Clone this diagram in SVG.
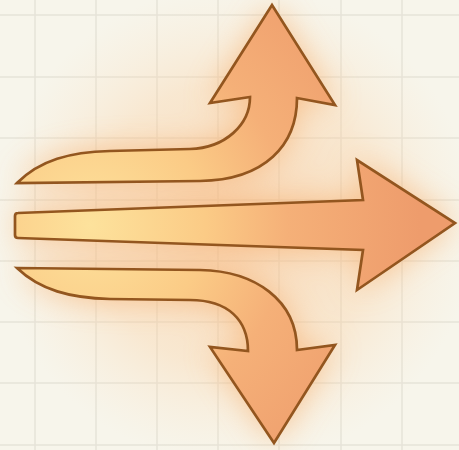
<svg xmlns="http://www.w3.org/2000/svg" width="459" height="450" viewBox="0 0 459 450">
  <defs>
    <radialGradient id="fillGrad" gradientUnits="userSpaceOnUse" cx="90" cy="225" r="330">
      <stop offset="0" stop-color="#fde29c"/>
      <stop offset="0.35" stop-color="#fbcb86"/>
      <stop offset="0.6" stop-color="#f5b078"/>
      <stop offset="1" stop-color="#ee9c6c"/>
    </radialGradient>
    <radialGradient id="wash" gradientUnits="userSpaceOnUse" cx="235" cy="225" r="240">
      <stop offset="0" stop-color="#f9b980" stop-opacity="0.55"/>
      <stop offset="0.6" stop-color="#fbcfa0" stop-opacity="0.35"/>
      <stop offset="1" stop-color="#fbe0c0" stop-opacity="0"/>
    </radialGradient>
    <filter id="glow" x="-30%" y="-30%" width="160%" height="160%">
      <feGaussianBlur stdDeviation="16"/>
    </filter>
    <style>
      .grid line { stroke: #e6e3d8; stroke-width: 1.5; }
      .arrow { fill: url(#fillGrad); stroke: #93561f; stroke-width: 2.7; stroke-linejoin: miter; }
      .glow { fill: #f7a45c; opacity: 0.6; filter: url(#glow); }
    </style>
  </defs>
  <rect width="459" height="450" fill="#f7f5eb"/>
  <g class="grid">
    <line x1="35" y1="0" x2="35" y2="450"/>
    <line x1="96" y1="0" x2="96" y2="450"/>
    <line x1="157" y1="0" x2="157" y2="450"/>
    <line x1="218" y1="0" x2="218" y2="450"/>
    <line x1="279" y1="0" x2="279" y2="450"/>
    <line x1="341" y1="0" x2="341" y2="450"/>
    <line x1="402" y1="0" x2="402" y2="450"/>
    <line x1="0" y1="15" x2="459" y2="15"/>
    <line x1="0" y1="77" x2="459" y2="77"/>
    <line x1="0" y1="138" x2="459" y2="138"/>
    <line x1="0" y1="200" x2="459" y2="200"/>
    <line x1="0" y1="261" x2="459" y2="261"/>
    <line x1="0" y1="322" x2="459" y2="322"/>
    <line x1="0" y1="383" x2="459" y2="383"/>
    <line x1="0" y1="445" x2="459" y2="445"/>
  </g>
  <rect width="459" height="450" fill="url(#wash)"/>
  <g class="glow">
    <path d="M17,183 C40,160 70,152 110,151 L190,149 C225,148 250,125 250,97 L210,103 L272,5 L335,105 L297,98 C297,145 265,180 200,181 Z"/>
    <path d="M18,213 L363,200 L357,160 L455,223 L357,290 L363,250 L18,238 Z"/>
    <path d="M17,268 L200,270 C255,271 297,300 297,350 L335,345 L274,443 L210,347 L248,351 C248,320 228,300 190,300 L110,299 C70,298 40,290 17,268 Z"/>
  </g>
  <g id="arrow-up">
    <path class="arrow" d="M17,183 C40,160 70,152 110,151 L190,149 C225,148 250,125 250,97 L210,103 L272,5 L335,105 L297,98 C297,145 265,180 200,181 L17,183 Z"/>
  </g>
  <g id="arrow-right">
    <path class="arrow" d="M18,213 L363,200 L357,160 L455,223 L357,290 L363,250 L18,238 Q15,238 15,235 L15,216 Q15,213 18,213 Z"/>
  </g>
  <g id="arrow-down">
    <path class="arrow" d="M17,268 L200,270 C255,271 297,300 297,350 L335,345 L274,443 L210,347 L248,351 C248,320 228,300 190,300 L110,299 C70,298 40,290 17,268 Z"/>
  </g>
</svg>
